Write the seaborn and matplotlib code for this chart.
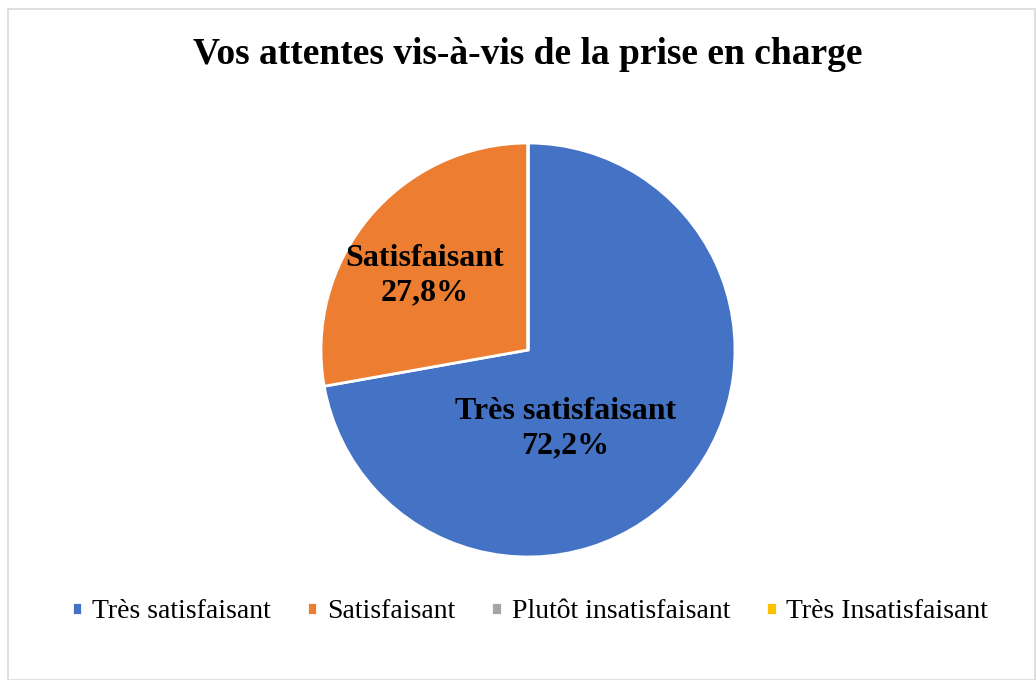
import matplotlib
matplotlib.use("Agg")
import matplotlib.pyplot as plt
import seaborn as sns
from matplotlib.patches import Rectangle

categories = ["Très satisfaisant", "Satisfaisant", "Plutôt insatisfaisant", "Très Insatisfaisant"]
values = [72.2, 27.8, 0.0, 0.0]
colors = ["#4472C4", "#ED7D31", "#A5A5A5", "#FFC000"]
title = "Vos attentes vis-à-vis de la prise en charge"

sns.set_theme(style="white")
plt.rcParams['font.family'] = ['Liberation Serif', 'DejaVu Serif']
plt.rcParams['text.color'] = 'black'

W, H = 1036, 680
fig = plt.figure(figsize=(W / 100, H / 100), dpi=100)
fig.patch.set_facecolor("white")

# border
fig.patches.append(Rectangle((8 / W, 0.5 / H), (W - 9) / W, (H - 9) / H, transform=fig.transFigure,
                             fill=False, edgecolor="#D9D9D9", linewidth=1.2))

cx, cy, r = 528, 350, 207
ax = fig.add_axes([(cx - r) / W, (H - cy - r) / H, 2 * r / W, 2 * r / H])
wedges, _ = ax.pie(values, colors=colors, startangle=90, counterclock=False, radius=1,
                   wedgeprops=dict(edgecolor="white", linewidth=2))
ax.set_xlim(-1, 1)
ax.set_ylim(-1, 1)
ax.set_aspect("equal")
ax.axis("off")

label_pos = {0: (0.18, -0.38), 1: (-0.50, 0.36)}
for i, (x, y) in label_pos.items():
    ax.text(x, y, f"{categories[i]}\n{values[i]:.1f}%".replace(".", ","), ha="center", va="center",
            fontsize=23, fontweight="bold", color="black", linespacing=1.25)

fig.text(528 / W, 1 - 55 / H, title, ha="center", va="center", fontsize=27, fontweight="bold")

fig.legend(wedges, categories, loc="center", bbox_to_anchor=(530 / W, 1 - 612 / H), ncol=4,
           frameon=False, fontsize=20, handlelength=0.38, handleheight=0.38, handletextpad=0.35,
           columnspacing=1.3)

fig.savefig("out.png", dpi=100, facecolor="white")
